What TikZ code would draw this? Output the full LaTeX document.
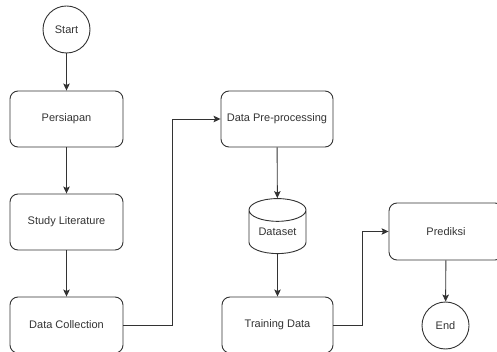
\documentclass[tikz,border=0pt]{standalone}
\usepackage{fontspec}
\setmainfont{Liberation Sans}
\usetikzlibrary{arrows.meta,shapes.geometric}
\definecolor{inkgray}{HTML}{333333}
\begin{document}
\begin{tikzpicture}[x=1pt,y=-1pt,
    every node/.style={font=\fontsize{11}{13}\selectfont,text=inkgray},
    proc/.style={draw=inkgray,line width=0.9pt,rounded corners=8pt,minimum width=113pt,minimum height=56pt,inner sep=0pt},
    term/.style={draw=inkgray,line width=0.9pt,circle,minimum size=47pt,inner sep=0pt},
    store/.style={draw=inkgray,line width=0.9pt,cylinder,shape border rotate=90,aspect=0.6,minimum width=57pt,minimum height=55pt,inner sep=0pt},
    flow/.style={draw=inkgray,line width=0.9pt,-{Stealth[length=7pt,width=6.5pt,inset=1.5pt]}}]
 % page frame
    \useasboundingbox (0,0) rectangle (497,352);

 % left column
    \node[term] (start) at (66.5,29.5) {Start};
    \node[proc] (persiapan) at (66.5,119) {Persiapan};
    \node[proc] (literature) at (66.5,222) {Study Literature};
    \node[proc] (collection) at (66.5,325) {Data Collection};

 % middle column
    \node[proc,minimum width=112pt] (preproc) at (277,119) {Data Pre-processing};
    \node[store] (dataset) at (277.5,232) {\raisebox{-2pt}{Dataset}};
    \node[proc,minimum width=111pt] (training) at (277.5,325) {Training Data};

 % right column
    \node[proc,minimum width=114pt,minimum height=57pt] (prediksi) at (446,231.5) {Prediksi};
    \node[term] (end) at (445.5,325.5) {End};

 % bend points
    \coordinate (bendA) at (172,0);
    \coordinate (bendB) at (362,0);

 % arrows
    \draw[flow] (start) -- (persiapan);
    \draw[flow] (persiapan) -- (literature);
    \draw[flow] (literature) -- (collection);
    \draw[flow] (collection.east) -- (collection.east -| bendA) |- (preproc.west);
    \draw[flow] (preproc) -- (dataset);
    \draw[flow] (dataset) -- (training);
    \draw[flow] (training.east) -- (training.east -| bendB) |- (prediksi.west);
    \draw[flow] (prediksi) -- (end);
\end{tikzpicture}
\end{document}
